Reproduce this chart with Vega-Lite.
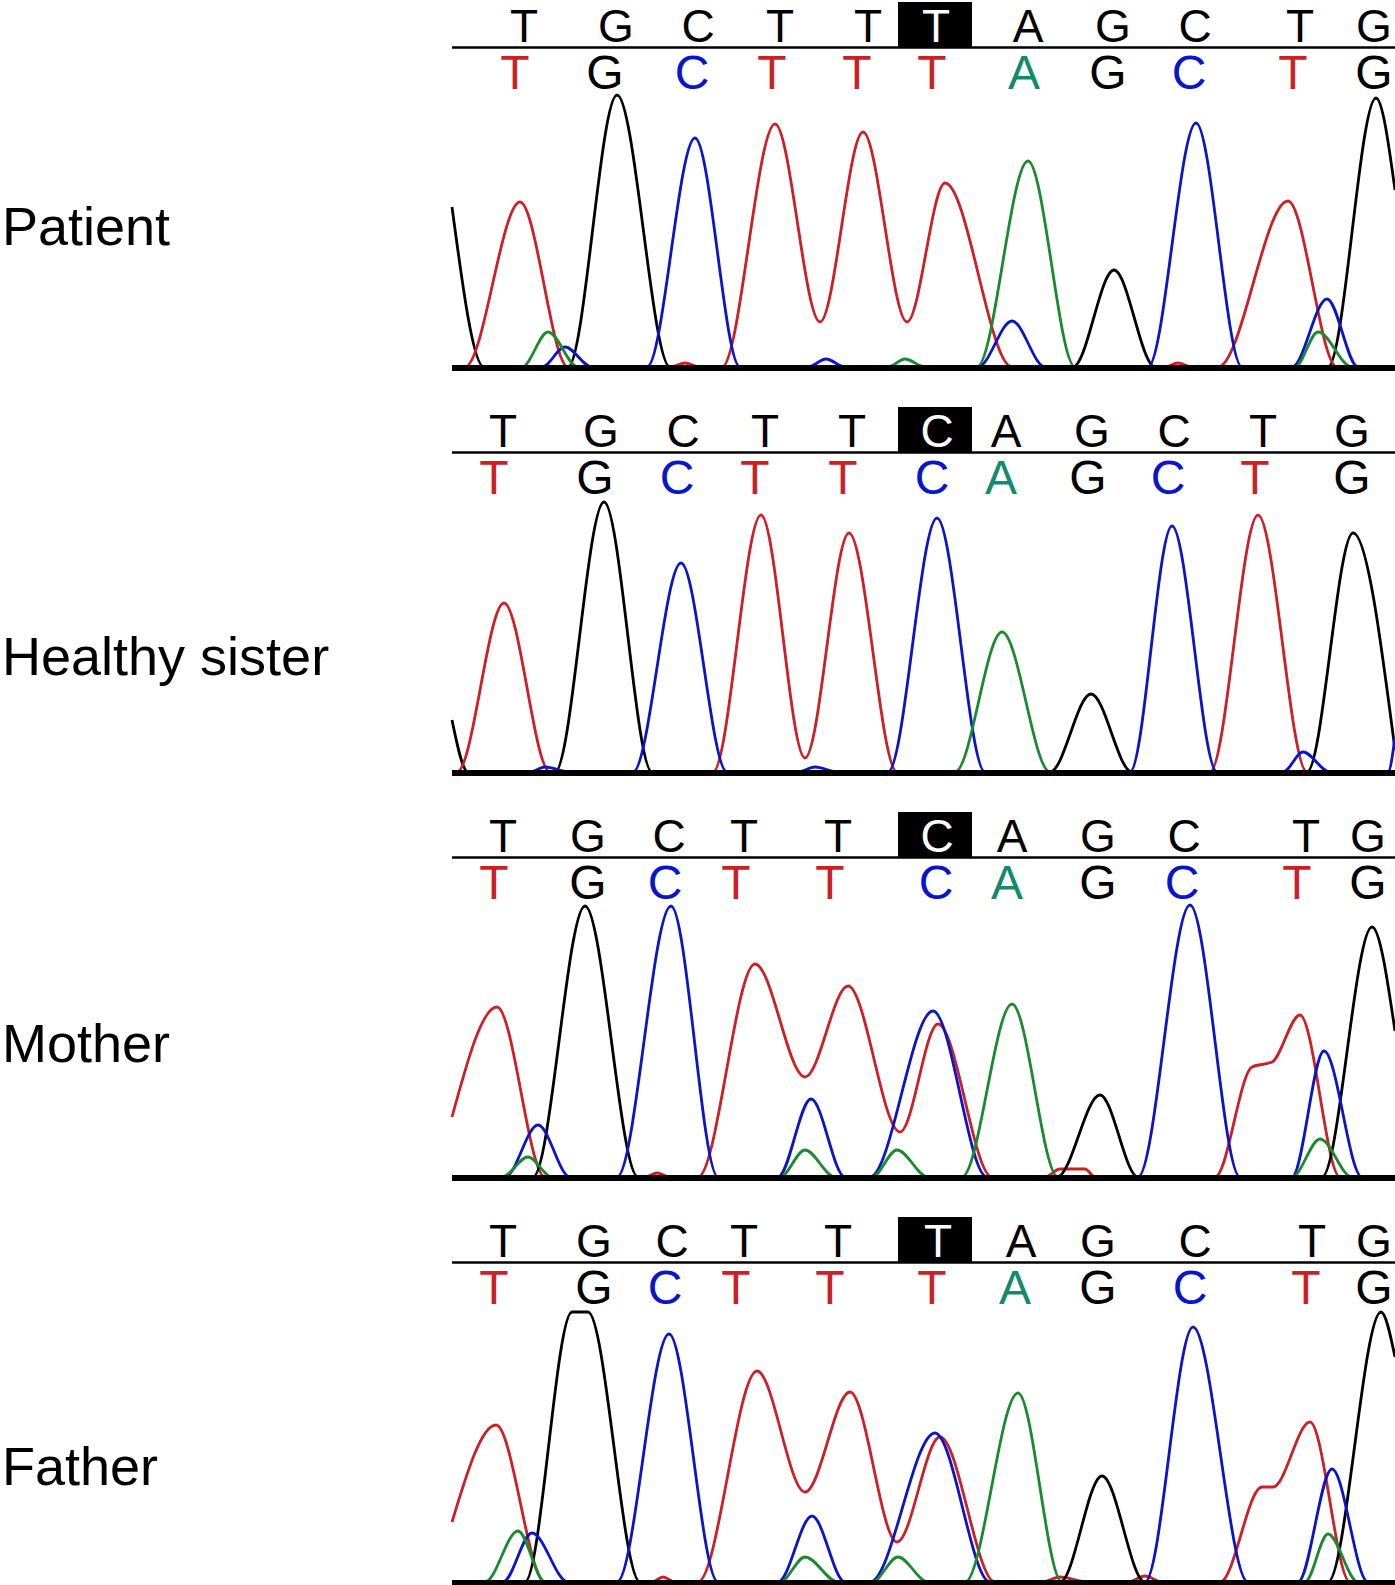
{
"$schema": "https://vega.github.io/schema/vega-lite/v6.json",
"padding": 0,
"spacing": 0,
"background": "white",
"config": {"view": {"stroke": null}, "font": "Liberation Sans", "concat": {"spacing": 0}},
"datasets": {
"labels": [{"p":1,"name":"Patient","h":122},{"p":2,"name":"Healthy sister","h":97},{"p":3,"name":"Mother","h":115},{"p":4,"name":"Father","h":97}],
"letters": [
{"p":1,"r":"ref","b":"T","x":524,"v":false},{"p":1,"r":"ref","b":"G","x":616,"v":false},{"p":1,"r":"ref","b":"C","x":698,"v":false},{"p":1,"r":"ref","b":"T","x":780,"v":false},{"p":1,"r":"ref","b":"T","x":868,"v":false},{"p":1,"r":"ref","b":"T","x":936,"v":true},{"p":1,"r":"ref","b":"A","x":1028,"v":false},{"p":1,"r":"ref","b":"G","x":1113,"v":false},{"p":1,"r":"ref","b":"C","x":1195,"v":false},{"p":1,"r":"ref","b":"T","x":1300,"v":false},{"p":1,"r":"ref","b":"G","x":1374,"v":false},
{"p":1,"r":"call","b":"T","x":515,"v":false},{"p":1,"r":"call","b":"G","x":605,"v":false},{"p":1,"r":"call","b":"C","x":692,"v":false},{"p":1,"r":"call","b":"T","x":772,"v":false},{"p":1,"r":"call","b":"T","x":857,"v":false},{"p":1,"r":"call","b":"T","x":932,"v":true},{"p":1,"r":"call","b":"A","x":1024,"v":false},{"p":1,"r":"call","b":"G","x":1108,"v":false},{"p":1,"r":"call","b":"C","x":1189,"v":false},{"p":1,"r":"call","b":"T","x":1293,"v":false},{"p":1,"r":"call","b":"G","x":1374,"v":false},
{"p":2,"r":"ref","b":"T","x":503,"v":false},{"p":2,"r":"ref","b":"G","x":601,"v":false},{"p":2,"r":"ref","b":"C","x":683,"v":false},{"p":2,"r":"ref","b":"T","x":765,"v":false},{"p":2,"r":"ref","b":"T","x":852,"v":false},{"p":2,"r":"ref","b":"C","x":937,"v":true},{"p":2,"r":"ref","b":"A","x":1006,"v":false},{"p":2,"r":"ref","b":"G","x":1092,"v":false},{"p":2,"r":"ref","b":"C","x":1174,"v":false},{"p":2,"r":"ref","b":"T","x":1263,"v":false},{"p":2,"r":"ref","b":"G","x":1352,"v":false},
{"p":2,"r":"call","b":"T","x":494,"v":false},{"p":2,"r":"call","b":"G","x":595,"v":false},{"p":2,"r":"call","b":"C","x":677,"v":false},{"p":2,"r":"call","b":"T","x":755,"v":false},{"p":2,"r":"call","b":"T","x":843,"v":false},{"p":2,"r":"call","b":"C","x":932,"v":true},{"p":2,"r":"call","b":"A","x":1001,"v":false},{"p":2,"r":"call","b":"G","x":1088,"v":false},{"p":2,"r":"call","b":"C","x":1168,"v":false},{"p":2,"r":"call","b":"T","x":1255,"v":false},{"p":2,"r":"call","b":"G","x":1352,"v":false},
{"p":3,"r":"ref","b":"T","x":503,"v":false},{"p":3,"r":"ref","b":"G","x":588,"v":false},{"p":3,"r":"ref","b":"C","x":669,"v":false},{"p":3,"r":"ref","b":"T","x":744,"v":false},{"p":3,"r":"ref","b":"T","x":838,"v":false},{"p":3,"r":"ref","b":"C","x":937,"v":true},{"p":3,"r":"ref","b":"A","x":1012,"v":false},{"p":3,"r":"ref","b":"G","x":1098,"v":false},{"p":3,"r":"ref","b":"C","x":1184,"v":false},{"p":3,"r":"ref","b":"T","x":1306,"v":false},{"p":3,"r":"ref","b":"G","x":1368,"v":false},
{"p":3,"r":"call","b":"T","x":494,"v":false},{"p":3,"r":"call","b":"G","x":588,"v":false},{"p":3,"r":"call","b":"C","x":665,"v":false},{"p":3,"r":"call","b":"T","x":736,"v":false},{"p":3,"r":"call","b":"T","x":830,"v":false},{"p":3,"r":"call","b":"C","x":936,"v":true},{"p":3,"r":"call","b":"A","x":1007,"v":false},{"p":3,"r":"call","b":"G","x":1098,"v":false},{"p":3,"r":"call","b":"C","x":1182,"v":false},{"p":3,"r":"call","b":"T","x":1297,"v":false},{"p":3,"r":"call","b":"G","x":1368,"v":false},
{"p":4,"r":"ref","b":"T","x":503,"v":false},{"p":4,"r":"ref","b":"G","x":594,"v":false},{"p":4,"r":"ref","b":"C","x":672,"v":false},{"p":4,"r":"ref","b":"T","x":744,"v":false},{"p":4,"r":"ref","b":"T","x":838,"v":false},{"p":4,"r":"ref","b":"T","x":938,"v":true},{"p":4,"r":"ref","b":"A","x":1021,"v":false},{"p":4,"r":"ref","b":"G","x":1098,"v":false},{"p":4,"r":"ref","b":"C","x":1195,"v":false},{"p":4,"r":"ref","b":"T","x":1312,"v":false},{"p":4,"r":"ref","b":"G","x":1374,"v":false},
{"p":4,"r":"call","b":"T","x":494,"v":false},{"p":4,"r":"call","b":"G","x":594,"v":false},{"p":4,"r":"call","b":"C","x":665,"v":false},{"p":4,"r":"call","b":"T","x":736,"v":false},{"p":4,"r":"call","b":"T","x":830,"v":false},{"p":4,"r":"call","b":"T","x":932,"v":true},{"p":4,"r":"call","b":"A","x":1015,"v":false},{"p":4,"r":"call","b":"G","x":1098,"v":false},{"p":4,"r":"call","b":"C","x":1190,"v":false},{"p":4,"r":"call","b":"T","x":1306,"v":false},{"p":4,"r":"call","b":"G","x":1374,"v":false}
],
"trace": [
{"p":1,"c":"G","x":452,"h":160},{"p":1,"c":"G","x":484,"h":0},{"p":1,"c":"G","x":568,"h":0},{"p":1,"c":"G","x":617,"h":272},{"p":1,"c":"G","x":670,"h":0},{"p":1,"c":"G","x":1073,"h":0},{"p":1,"c":"G","x":1114,"h":97},{"p":1,"c":"G","x":1155,"h":0},{"p":1,"c":"G","x":1328,"h":0},{"p":1,"c":"G","x":1376,"h":269},{"p":1,"c":"G","x":1395,"h":177},
{"p":1,"c":"T","x":452,"h":0},{"p":1,"c":"T","x":465,"h":0},{"p":1,"c":"T","x":520,"h":165},{"p":1,"c":"T","x":568,"h":0},{"p":1,"c":"T","x":670,"h":0},{"p":1,"c":"T","x":685,"h":4},{"p":1,"c":"T","x":700,"h":0},{"p":1,"c":"T","x":722,"h":0},{"p":1,"c":"T","x":775,"h":243},{"p":1,"c":"T","x":820,"h":45},{"p":1,"c":"T","x":863,"h":235},{"p":1,"c":"T","x":907,"h":45},{"p":1,"c":"T","x":945,"h":184},{"p":1,"c":"T","x":1012,"h":0},{"p":1,"c":"T","x":1165,"h":0},{"p":1,"c":"T","x":1178,"h":4},{"p":1,"c":"T","x":1192,"h":0},{"p":1,"c":"T","x":1218,"h":0},{"p":1,"c":"T","x":1288,"h":166},{"p":1,"c":"T","x":1337,"h":0},{"p":1,"c":"T","x":1395,"h":0},
{"p":1,"c":"C","x":452,"h":0},{"p":1,"c":"C","x":542,"h":0},{"p":1,"c":"C","x":565,"h":20},{"p":1,"c":"C","x":592,"h":0},{"p":1,"c":"C","x":647,"h":0},{"p":1,"c":"C","x":695,"h":229},{"p":1,"c":"C","x":740,"h":0},{"p":1,"c":"C","x":808,"h":0},{"p":1,"c":"C","x":826,"h":8},{"p":1,"c":"C","x":845,"h":0},{"p":1,"c":"C","x":978,"h":0},{"p":1,"c":"C","x":1012,"h":46},{"p":1,"c":"C","x":1045,"h":0},{"p":1,"c":"C","x":1148,"h":0},{"p":1,"c":"C","x":1196,"h":244},{"p":1,"c":"C","x":1242,"h":0},{"p":1,"c":"C","x":1292,"h":0},{"p":1,"c":"C","x":1327,"h":68},{"p":1,"c":"C","x":1358,"h":0},{"p":1,"c":"C","x":1395,"h":0},
{"p":1,"c":"A","x":452,"h":0},{"p":1,"c":"A","x":522,"h":0},{"p":1,"c":"A","x":548,"h":35},{"p":1,"c":"A","x":578,"h":0},{"p":1,"c":"A","x":888,"h":0},{"p":1,"c":"A","x":905,"h":8},{"p":1,"c":"A","x":925,"h":0},{"p":1,"c":"A","x":977,"h":0},{"p":1,"c":"A","x":1028,"h":206},{"p":1,"c":"A","x":1075,"h":0},{"p":1,"c":"A","x":1295,"h":0},{"p":1,"c":"A","x":1318,"h":35},{"p":1,"c":"A","x":1352,"h":0},{"p":1,"c":"A","x":1395,"h":0},
{"p":2,"c":"G","x":452,"h":52},{"p":2,"c":"G","x":468,"h":0},{"p":2,"c":"G","x":555,"h":0},{"p":2,"c":"G","x":604,"h":270},{"p":2,"c":"G","x":652,"h":0},{"p":2,"c":"G","x":1050,"h":0},{"p":2,"c":"G","x":1091,"h":78},{"p":2,"c":"G","x":1132,"h":0},{"p":2,"c":"G","x":1307,"h":0},{"p":2,"c":"G","x":1353,"h":239},{"p":2,"c":"G","x":1395,"h":22},
{"p":2,"c":"T","x":452,"h":0},{"p":2,"c":"T","x":457,"h":0},{"p":2,"c":"T","x":504,"h":169},{"p":2,"c":"T","x":550,"h":0},{"p":2,"c":"T","x":713,"h":0},{"p":2,"c":"T","x":761,"h":257},{"p":2,"c":"T","x":805,"h":14},{"p":2,"c":"T","x":849,"h":239},{"p":2,"c":"T","x":897,"h":0},{"p":2,"c":"T","x":1210,"h":0},{"p":2,"c":"T","x":1258,"h":257},{"p":2,"c":"T","x":1307,"h":0},{"p":2,"c":"T","x":1395,"h":0},
{"p":2,"c":"C","x":452,"h":0},{"p":2,"c":"C","x":530,"h":0},{"p":2,"c":"C","x":545,"h":5},{"p":2,"c":"C","x":570,"h":0},{"p":2,"c":"C","x":633,"h":0},{"p":2,"c":"C","x":681,"h":209},{"p":2,"c":"C","x":727,"h":0},{"p":2,"c":"C","x":798,"h":0},{"p":2,"c":"C","x":815,"h":5},{"p":2,"c":"C","x":838,"h":0},{"p":2,"c":"C","x":888,"h":0},{"p":2,"c":"C","x":937,"h":254},{"p":2,"c":"C","x":985,"h":0},{"p":2,"c":"C","x":1130,"h":0},{"p":2,"c":"C","x":1172,"h":246},{"p":2,"c":"C","x":1217,"h":0},{"p":2,"c":"C","x":1283,"h":0},{"p":2,"c":"C","x":1303,"h":20},{"p":2,"c":"C","x":1330,"h":0},{"p":2,"c":"C","x":1388,"h":0},{"p":2,"c":"C","x":1395,"h":35},
{"p":2,"c":"A","x":452,"h":0},{"p":2,"c":"A","x":955,"h":0},{"p":2,"c":"A","x":1002,"h":140},{"p":2,"c":"A","x":1050,"h":0},{"p":2,"c":"A","x":1395,"h":0},
{"p":3,"c":"T","x":452,"h":60},{"p":3,"c":"T","x":497,"h":170},{"p":3,"c":"T","x":545,"h":0},{"p":3,"c":"T","x":645,"h":0},{"p":3,"c":"T","x":657,"h":4},{"p":3,"c":"T","x":670,"h":0},{"p":3,"c":"T","x":698,"h":0},{"p":3,"c":"T","x":755,"h":213},{"p":3,"c":"T","x":805,"h":100},{"p":3,"c":"T","x":848,"h":191},{"p":3,"c":"T","x":900,"h":45},{"p":3,"c":"T","x":938,"h":153},{"p":3,"c":"T","x":992,"h":0},{"p":3,"c":"T","x":1045,"h":0},{"p":3,"c":"T","x":1060,"h":8},{"p":3,"c":"T","x":1085,"h":8},{"p":3,"c":"T","x":1095,"h":0},{"p":3,"c":"T","x":1215,"h":0},{"p":3,"c":"T","x":1252,"h":110},{"p":3,"c":"T","x":1272,"h":115},{"p":3,"c":"T","x":1300,"h":162},{"p":3,"c":"T","x":1340,"h":0},{"p":3,"c":"T","x":1395,"h":0},
{"p":3,"c":"G","x":452,"h":0},{"p":3,"c":"G","x":533,"h":0},{"p":3,"c":"G","x":585,"h":271},{"p":3,"c":"G","x":638,"h":0},{"p":3,"c":"G","x":1057,"h":0},{"p":3,"c":"G","x":1100,"h":82},{"p":3,"c":"G","x":1138,"h":0},{"p":3,"c":"G","x":1322,"h":0},{"p":3,"c":"G","x":1372,"h":250},{"p":3,"c":"G","x":1395,"h":146},
{"p":3,"c":"C","x":452,"h":0},{"p":3,"c":"C","x":505,"h":0},{"p":3,"c":"C","x":538,"h":52},{"p":3,"c":"C","x":570,"h":0},{"p":3,"c":"C","x":617,"h":0},{"p":3,"c":"C","x":671,"h":271},{"p":3,"c":"C","x":718,"h":0},{"p":3,"c":"C","x":778,"h":0},{"p":3,"c":"C","x":811,"h":78},{"p":3,"c":"C","x":845,"h":0},{"p":3,"c":"C","x":870,"h":0},{"p":3,"c":"C","x":933,"h":166},{"p":3,"c":"C","x":987,"h":0},{"p":3,"c":"C","x":1138,"h":0},{"p":3,"c":"C","x":1190,"h":272},{"p":3,"c":"C","x":1240,"h":0},{"p":3,"c":"C","x":1292,"h":0},{"p":3,"c":"C","x":1324,"h":126},{"p":3,"c":"C","x":1362,"h":0},{"p":3,"c":"C","x":1395,"h":0},
{"p":3,"c":"A","x":452,"h":0},{"p":3,"c":"A","x":502,"h":0},{"p":3,"c":"A","x":528,"h":20},{"p":3,"c":"A","x":552,"h":0},{"p":3,"c":"A","x":780,"h":0},{"p":3,"c":"A","x":805,"h":27},{"p":3,"c":"A","x":835,"h":0},{"p":3,"c":"A","x":872,"h":0},{"p":3,"c":"A","x":897,"h":27},{"p":3,"c":"A","x":928,"h":0},{"p":3,"c":"A","x":962,"h":0},{"p":3,"c":"A","x":1012,"h":173},{"p":3,"c":"A","x":1058,"h":0},{"p":3,"c":"A","x":1292,"h":0},{"p":3,"c":"A","x":1320,"h":38},{"p":3,"c":"A","x":1352,"h":0},{"p":3,"c":"A","x":1395,"h":0},
{"p":4,"c":"T","x":452,"h":60},{"p":4,"c":"T","x":496,"h":157},{"p":4,"c":"T","x":545,"h":0},{"p":4,"c":"T","x":652,"h":0},{"p":4,"c":"T","x":663,"h":5},{"p":4,"c":"T","x":675,"h":0},{"p":4,"c":"T","x":698,"h":0},{"p":4,"c":"T","x":757,"h":211},{"p":4,"c":"T","x":805,"h":90},{"p":4,"c":"T","x":850,"h":190},{"p":4,"c":"T","x":897,"h":40},{"p":4,"c":"T","x":940,"h":145},{"p":4,"c":"T","x":995,"h":0},{"p":4,"c":"T","x":1042,"h":0},{"p":4,"c":"T","x":1060,"h":5},{"p":4,"c":"T","x":1088,"h":0},{"p":4,"c":"T","x":1128,"h":0},{"p":4,"c":"T","x":1145,"h":6},{"p":4,"c":"T","x":1162,"h":0},{"p":4,"c":"T","x":1220,"h":0},{"p":4,"c":"T","x":1262,"h":95},{"p":4,"c":"T","x":1273,"h":95},{"p":4,"c":"T","x":1310,"h":160},{"p":4,"c":"T","x":1350,"h":0},{"p":4,"c":"T","x":1395,"h":0},
{"p":4,"c":"G","x":452,"h":0},{"p":4,"c":"G","x":525,"h":0},{"p":4,"c":"G","x":572,"h":270},{"p":4,"c":"G","x":588,"h":270},{"p":4,"c":"G","x":640,"h":0},{"p":4,"c":"G","x":1060,"h":0},{"p":4,"c":"G","x":1102,"h":106},{"p":4,"c":"G","x":1145,"h":0},{"p":4,"c":"G","x":1328,"h":0},{"p":4,"c":"G","x":1381,"h":270},{"p":4,"c":"G","x":1395,"h":225},
{"p":4,"c":"C","x":452,"h":0},{"p":4,"c":"C","x":503,"h":0},{"p":4,"c":"C","x":532,"h":49},{"p":4,"c":"C","x":568,"h":0},{"p":4,"c":"C","x":617,"h":0},{"p":4,"c":"C","x":669,"h":248},{"p":4,"c":"C","x":718,"h":0},{"p":4,"c":"C","x":778,"h":0},{"p":4,"c":"C","x":812,"h":66},{"p":4,"c":"C","x":845,"h":0},{"p":4,"c":"C","x":870,"h":0},{"p":4,"c":"C","x":935,"h":149},{"p":4,"c":"C","x":990,"h":0},{"p":4,"c":"C","x":1145,"h":0},{"p":4,"c":"C","x":1193,"h":255},{"p":4,"c":"C","x":1248,"h":0},{"p":4,"c":"C","x":1298,"h":0},{"p":4,"c":"C","x":1332,"h":113},{"p":4,"c":"C","x":1368,"h":0},{"p":4,"c":"C","x":1395,"h":0},
{"p":4,"c":"A","x":452,"h":0},{"p":4,"c":"A","x":485,"h":0},{"p":4,"c":"A","x":518,"h":51},{"p":4,"c":"A","x":545,"h":0},{"p":4,"c":"A","x":780,"h":0},{"p":4,"c":"A","x":805,"h":25},{"p":4,"c":"A","x":838,"h":0},{"p":4,"c":"A","x":872,"h":0},{"p":4,"c":"A","x":898,"h":25},{"p":4,"c":"A","x":928,"h":0},{"p":4,"c":"A","x":965,"h":0},{"p":4,"c":"A","x":1018,"h":189},{"p":4,"c":"A","x":1062,"h":0},{"p":4,"c":"A","x":1305,"h":0},{"p":4,"c":"A","x":1328,"h":48},{"p":4,"c":"A","x":1358,"h":0},{"p":4,"c":"A","x":1395,"h":0}
]
},
"vconcat": [
{"width":1395,"height":405,"layer":[
 {"data":{"name":"trace"},"transform":[{"filter":"datum.p===1"}],"mark":{"type":"line","interpolate":"monotone","strokeWidth":2.8},"encoding":{"x":{"field":"x","type":"quantitative","scale":{"domain":[0,1395],"nice":false,"zero":false},"axis":null},"y":{"field":"h","type":"quantitative","scale":{"domain":[-38,367],"nice":false,"zero":false},"axis":null},"stroke":{"field":"c","type":"nominal","scale":{"domain":["A","C","G","T"],"range":["#1a8a2e","#0a14c8","#000000","#cc1f26"]},"legend":null},"detail":{"field":"c"}}},
 {"data":{"values":[{}]},"mark":{"type":"rule","strokeWidth":6,"color":"black"},"encoding":{"x":{"datum":452,"type":"quantitative"},"x2":{"datum":1395},"y":{"datum":-1,"type":"quantitative"}}},
 {"data":{"values":[{}]},"mark":{"type":"rule","strokeWidth":2.5,"color":"black"},"encoding":{"x":{"datum":452,"type":"quantitative"},"x2":{"datum":1395},"y":{"datum":319.5,"type":"quantitative"}}},
 {"data":{"values":[{}]},"mark":{"type":"rect","color":"black"},"encoding":{"x":{"datum":898,"type":"quantitative"},"x2":{"datum":972},"y":{"datum":320,"type":"quantitative"},"y2":{"datum":365}}},
 {"data":{"name":"letters"},"transform":[{"filter":"datum.p===1 && datum.r==='ref'"}],"mark":{"type":"text","fontSize":46,"baseline":"alphabetic","align":"center","font":"Liberation Sans"},"encoding":{"x":{"field":"x","type":"quantitative"},"y":{"datum":325,"type":"quantitative"},"text":{"field":"b"},"fill":{"condition":{"test":"datum.v","value":"white"},"value":"black"}}},
 {"data":{"name":"letters"},"transform":[{"filter":"datum.p===1 && datum.r==='call'"}],"mark":{"type":"text","fontSize":48,"baseline":"alphabetic","align":"center","font":"Liberation Sans"},"encoding":{"x":{"field":"x","type":"quantitative"},"y":{"datum":278,"type":"quantitative"},"text":{"field":"b"},"fill":{"field":"b","type":"nominal","scale":{"domain":["A","C","G","T"],"range":["#138a6c","#0a14c8","#000000","#cc1f26"]},"legend":null}}},
 {"data":{"name":"labels"},"transform":[{"filter":"datum.p===1"}],"mark":{"type":"text","fontSize":54,"baseline":"alphabetic","align":"left","font":"Liberation Sans","color":"black"},"encoding":{"x":{"datum":2,"type":"quantitative"},"y":{"field":"h","type":"quantitative"},"text":{"field":"name"}}}
]},
{"width":1395,"height":405,"layer":[
 {"data":{"name":"trace"},"transform":[{"filter":"datum.p===2"}],"mark":{"type":"line","interpolate":"monotone","strokeWidth":2.8},"encoding":{"x":{"field":"x","type":"quantitative","scale":{"domain":[0,1395],"nice":false,"zero":false},"axis":null},"y":{"field":"h","type":"quantitative","scale":{"domain":[-38,367],"nice":false,"zero":false},"axis":null},"stroke":{"field":"c","type":"nominal","scale":{"domain":["A","C","G","T"],"range":["#1a8a2e","#0a14c8","#000000","#cc1f26"]},"legend":null},"detail":{"field":"c"}}},
 {"data":{"values":[{}]},"mark":{"type":"rule","strokeWidth":6,"color":"black"},"encoding":{"x":{"datum":452,"type":"quantitative"},"x2":{"datum":1395},"y":{"datum":-1,"type":"quantitative"}}},
 {"data":{"values":[{}]},"mark":{"type":"rule","strokeWidth":2.5,"color":"black"},"encoding":{"x":{"datum":452,"type":"quantitative"},"x2":{"datum":1395},"y":{"datum":319.5,"type":"quantitative"}}},
 {"data":{"values":[{}]},"mark":{"type":"rect","color":"black"},"encoding":{"x":{"datum":898,"type":"quantitative"},"x2":{"datum":972},"y":{"datum":320,"type":"quantitative"},"y2":{"datum":365}}},
 {"data":{"name":"letters"},"transform":[{"filter":"datum.p===2 && datum.r==='ref'"}],"mark":{"type":"text","fontSize":46,"baseline":"alphabetic","align":"center","font":"Liberation Sans"},"encoding":{"x":{"field":"x","type":"quantitative"},"y":{"datum":325,"type":"quantitative"},"text":{"field":"b"},"fill":{"condition":{"test":"datum.v","value":"white"},"value":"black"}}},
 {"data":{"name":"letters"},"transform":[{"filter":"datum.p===2 && datum.r==='call'"}],"mark":{"type":"text","fontSize":48,"baseline":"alphabetic","align":"center","font":"Liberation Sans"},"encoding":{"x":{"field":"x","type":"quantitative"},"y":{"datum":278,"type":"quantitative"},"text":{"field":"b"},"fill":{"field":"b","type":"nominal","scale":{"domain":["A","C","G","T"],"range":["#138a6c","#0a14c8","#000000","#cc1f26"]},"legend":null}}},
 {"data":{"name":"labels"},"transform":[{"filter":"datum.p===2"}],"mark":{"type":"text","fontSize":54,"baseline":"alphabetic","align":"left","font":"Liberation Sans","color":"black"},"encoding":{"x":{"datum":2,"type":"quantitative"},"y":{"field":"h","type":"quantitative"},"text":{"field":"name"}}}
]},
{"width":1395,"height":405,"layer":[
 {"data":{"name":"trace"},"transform":[{"filter":"datum.p===3"}],"mark":{"type":"line","interpolate":"monotone","strokeWidth":2.8},"encoding":{"x":{"field":"x","type":"quantitative","scale":{"domain":[0,1395],"nice":false,"zero":false},"axis":null},"y":{"field":"h","type":"quantitative","scale":{"domain":[-38,367],"nice":false,"zero":false},"axis":null},"stroke":{"field":"c","type":"nominal","scale":{"domain":["A","C","G","T"],"range":["#1a8a2e","#0a14c8","#000000","#cc1f26"]},"legend":null},"detail":{"field":"c"}}},
 {"data":{"values":[{}]},"mark":{"type":"rule","strokeWidth":6,"color":"black"},"encoding":{"x":{"datum":452,"type":"quantitative"},"x2":{"datum":1395},"y":{"datum":-1,"type":"quantitative"}}},
 {"data":{"values":[{}]},"mark":{"type":"rule","strokeWidth":2.5,"color":"black"},"encoding":{"x":{"datum":452,"type":"quantitative"},"x2":{"datum":1395},"y":{"datum":319.5,"type":"quantitative"}}},
 {"data":{"values":[{}]},"mark":{"type":"rect","color":"black"},"encoding":{"x":{"datum":898,"type":"quantitative"},"x2":{"datum":972},"y":{"datum":320,"type":"quantitative"},"y2":{"datum":365}}},
 {"data":{"name":"letters"},"transform":[{"filter":"datum.p===3 && datum.r==='ref'"}],"mark":{"type":"text","fontSize":46,"baseline":"alphabetic","align":"center","font":"Liberation Sans"},"encoding":{"x":{"field":"x","type":"quantitative"},"y":{"datum":325,"type":"quantitative"},"text":{"field":"b"},"fill":{"condition":{"test":"datum.v","value":"white"},"value":"black"}}},
 {"data":{"name":"letters"},"transform":[{"filter":"datum.p===3 && datum.r==='call'"}],"mark":{"type":"text","fontSize":48,"baseline":"alphabetic","align":"center","font":"Liberation Sans"},"encoding":{"x":{"field":"x","type":"quantitative"},"y":{"datum":278,"type":"quantitative"},"text":{"field":"b"},"fill":{"field":"b","type":"nominal","scale":{"domain":["A","C","G","T"],"range":["#138a6c","#0a14c8","#000000","#cc1f26"]},"legend":null}}},
 {"data":{"name":"labels"},"transform":[{"filter":"datum.p===3"}],"mark":{"type":"text","fontSize":54,"baseline":"alphabetic","align":"left","font":"Liberation Sans","color":"black"},"encoding":{"x":{"datum":2,"type":"quantitative"},"y":{"field":"h","type":"quantitative"},"text":{"field":"name"}}}
]},
{"width":1395,"height":370,"layer":[
 {"data":{"name":"trace"},"transform":[{"filter":"datum.p===4"}],"mark":{"type":"line","interpolate":"monotone","strokeWidth":2.8},"encoding":{"x":{"field":"x","type":"quantitative","scale":{"domain":[0,1395],"nice":false,"zero":false},"axis":null},"y":{"field":"h","type":"quantitative","scale":{"domain":[-3,367],"nice":false,"zero":false},"axis":null},"stroke":{"field":"c","type":"nominal","scale":{"domain":["A","C","G","T"],"range":["#1a8a2e","#0a14c8","#000000","#cc1f26"]},"legend":null},"detail":{"field":"c"}}},
 {"data":{"values":[{}]},"mark":{"type":"rule","strokeWidth":6,"color":"black"},"encoding":{"x":{"datum":452,"type":"quantitative"},"x2":{"datum":1395},"y":{"datum":-1,"type":"quantitative"}}},
 {"data":{"values":[{}]},"mark":{"type":"rule","strokeWidth":2.5,"color":"black"},"encoding":{"x":{"datum":452,"type":"quantitative"},"x2":{"datum":1395},"y":{"datum":319.5,"type":"quantitative"}}},
 {"data":{"values":[{}]},"mark":{"type":"rect","color":"black"},"encoding":{"x":{"datum":898,"type":"quantitative"},"x2":{"datum":972},"y":{"datum":320,"type":"quantitative"},"y2":{"datum":365}}},
 {"data":{"name":"letters"},"transform":[{"filter":"datum.p===4 && datum.r==='ref'"}],"mark":{"type":"text","fontSize":46,"baseline":"alphabetic","align":"center","font":"Liberation Sans"},"encoding":{"x":{"field":"x","type":"quantitative"},"y":{"datum":325,"type":"quantitative"},"text":{"field":"b"},"fill":{"condition":{"test":"datum.v","value":"white"},"value":"black"}}},
 {"data":{"name":"letters"},"transform":[{"filter":"datum.p===4 && datum.r==='call'"}],"mark":{"type":"text","fontSize":48,"baseline":"alphabetic","align":"center","font":"Liberation Sans"},"encoding":{"x":{"field":"x","type":"quantitative"},"y":{"datum":278,"type":"quantitative"},"text":{"field":"b"},"fill":{"field":"b","type":"nominal","scale":{"domain":["A","C","G","T"],"range":["#138a6c","#0a14c8","#000000","#cc1f26"]},"legend":null}}},
 {"data":{"name":"labels"},"transform":[{"filter":"datum.p===4"}],"mark":{"type":"text","fontSize":54,"baseline":"alphabetic","align":"left","font":"Liberation Sans","color":"black"},"encoding":{"x":{"datum":2,"type":"quantitative"},"y":{"field":"h","type":"quantitative"},"text":{"field":"name"}}}
]}
]
}
